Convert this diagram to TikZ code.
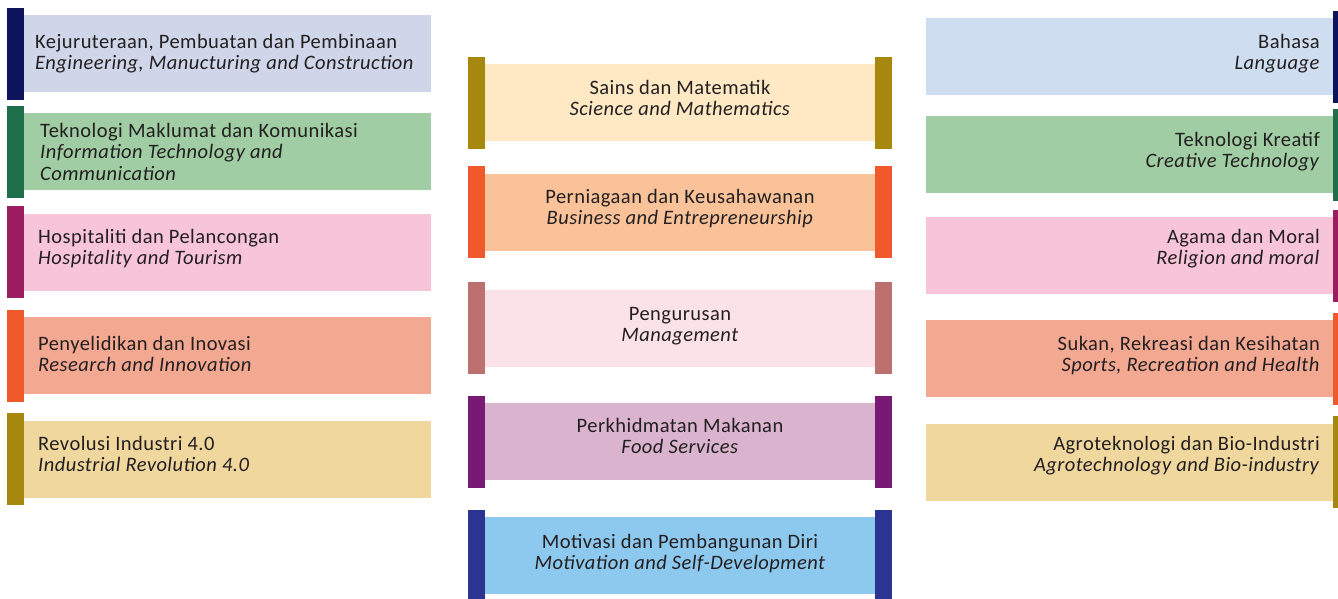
\documentclass[tikz,border=0pt]{standalone}
\usepackage{fontspec}
\setmainfont{Carlito}[LetterSpace=2.2]
\definecolor{txt}{HTML}{231F20}
\definecolor{navy}{HTML}{0E135E}
\definecolor{dgreen}{HTML}{1E6E4A}
\definecolor{magenta}{HTML}{9C1D62}
\definecolor{orangered}{HTML}{F05A2B}
\definecolor{olive}{HTML}{A6880F}
\definecolor{rose}{HTML}{BD7070}
\definecolor{purple}{HTML}{781A75}
\definecolor{royal}{HTML}{2B3492}
\definecolor{lav}{HTML}{CFD6E9}
\definecolor{lgreen}{HTML}{A0CDA3}
\definecolor{lpink}{HTML}{F8C4D7}
\definecolor{salmon}{HTML}{F3A891}
\definecolor{sand}{HTML}{EFD79E}
\definecolor{cream}{HTML}{FEE9C4}
\definecolor{peach}{HTML}{F9C298}
\definecolor{blush}{HTML}{FBE2E8}
\definecolor{mauve}{HTML}{DAB4CE}
\definecolor{sky}{HTML}{8DC8EE}
\definecolor{lblue}{HTML}{CFDDF0}
\tikzset{lbl/.style={inner sep=0pt,text=txt,font=\fontsize{20.5}{21.5}\selectfont}}
% left item: name, bar colour, box colour, bar top, box top, text x, baseline, text
\newcommand\LItem[8]{%
  \fill[#2] (7,#4) rectangle (24,#4+92);
  \fill[#3] (24,#5) rectangle (431,#5+77);
  \node[lbl,anchor=base west] (#1) at (#6,#7) {\begin{tabular}[t]{@{}l@{}}#8\end{tabular}};}
% centre item: name, bar colour, box colour, bar top, box top, baseline, text
\newcommand\CItem[7]{%
  \fill[#2] (468,#4) rectangle (485,#4+92);
  \fill[#2] (875,#4) rectangle (892,#4+92);
  \fill[#3] (485,#5) rectangle (875,#5+77);
  \node[lbl,anchor=base] (#1) at (680,#6) {\begin{tabular}[t]{@{}c@{}}#7\end{tabular}};}
% right item: name, bar colour, box colour, bar top, box top, baseline, text
\newcommand\RItem[7]{%
  \fill[#2] (1333,#4) rectangle (1338,#4+92);
  \fill[#3] (926,#5) rectangle (1333,#5+77);
  \node[lbl,anchor=base east] (#1) at (1320,#6) {\begin{tabular}[t]{@{}r@{}}#7\end{tabular}};}
\begin{document}
\begin{tikzpicture}[x=1pt,y=-1pt]
\useasboundingbox (0,0) rectangle (1338,598);
\fill[white] (0,0) rectangle (1338,598);
% left column
\LItem{l1}{navy}{lav}{8}{15}{35}{48}{Kejuruteraan, Pembuatan dan Pembinaan\\\textit{Engineering, Manucturing and Construction}}
\LItem{l2}{dgreen}{lgreen}{106}{113}{40}{137}{Teknologi Maklumat dan Komunikasi\\\textit{Information Technology and}\\\textit{Communication}}
\LItem{l3}{magenta}{lpink}{206}{214}{38}{243}{Hospitaliti dan Pelancongan\\\textit{Hospitality and Tourism}}
\LItem{l4}{orangered}{salmon}{310}{317}{38}{350}{Penyelidikan dan Inovasi\\\textit{Research and Innovation}}
\LItem{l5}{olive}{sand}{413}{421}{38}{450}{Revolusi Industri 4.0\\\textit{Industrial Revolution 4.0}}
% centre column
\CItem{c1}{olive}{cream}{57}{64}{94}{Sains dan Matematik\\\textit{Science and Mathematics}}
\CItem{c2}{orangered}{peach}{166}{174}{203}{Perniagaan dan Keusahawanan\\\textit{Business and Entrepreneurship}}
\CItem{c3}{rose}{blush}{282}{290}{320}{Pengurusan\\\textit{Management}}
\CItem{c4}{purple}{mauve}{396}{403}{432}{Perkhidmatan Makanan\\\textit{Food Services}}
\CItem{c5}{royal}{sky}{510}{517}{548}{Motivasi dan Pembangunan Diri\\\textit{Motivation and Self-Development}}
% right column
\RItem{r1}{navy}{lblue}{11}{18}{48}{Bahasa\\\textit{Language}}
\RItem{r2}{dgreen}{lgreen}{109}{116}{146}{Teknologi Kreatif\\\textit{Creative Technology}}
\RItem{r3}{magenta}{lpink}{210}{217}{243}{Agama dan Moral\\\textit{Religion and moral}}
\RItem{r4}{orangered}{salmon}{313}{320}{350}{Sukan, Rekreasi dan Kesihatan\\\textit{Sports, Recreation and Health}}
\RItem{r5}{olive}{sand}{416}{424}{450}{Agroteknologi dan Bio-Industri\\\textit{Agrotechnology and Bio-industry}}
\end{tikzpicture}
\end{document}
